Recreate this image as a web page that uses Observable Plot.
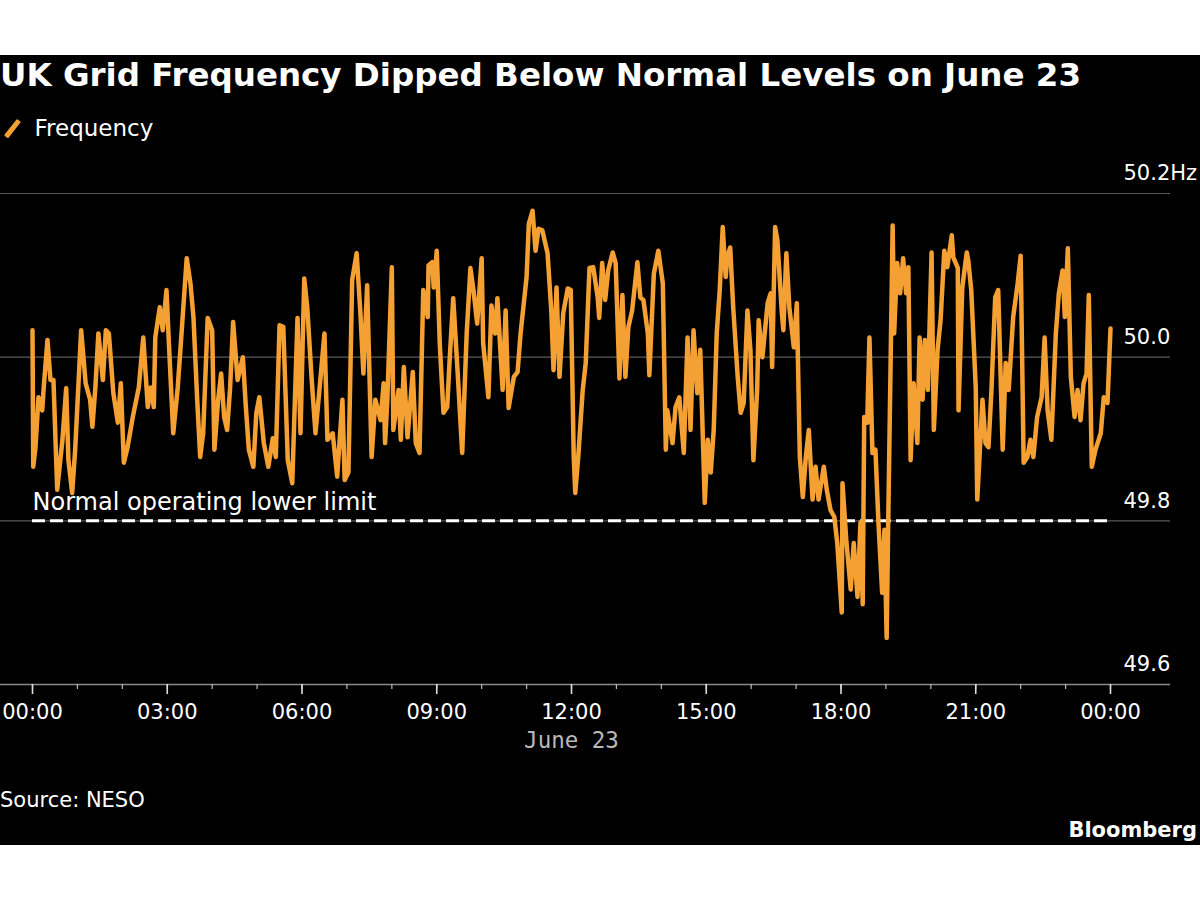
<!DOCTYPE html>
<html>
<head>
<meta charset="utf-8">
<script src="https://cdn.jsdelivr.net/npm/d3@7"></script>
<script src="https://cdn.jsdelivr.net/npm/@observablehq/plot@0.6"></script>
<style>
  html, body { margin: 0; padding: 0; background: #ffffff; width: 1200px; height: 900px; overflow: hidden; }
  #panel { position: absolute; left: 0; top: 55px; width: 1200px; height: 790px; background: #000; }
  .abs { position: absolute; white-space: nowrap; color: #fff; font-family: "DejaVu Sans", sans-serif; }
  #title { left: 0; top: 0px; font-size: 32.5px; font-weight: bold; line-height: 40px; }
  #legend { left: 2px; top: 58px; font-size: 23px; line-height: 30px; display: flex; align-items: center; }
  #legend .sw { display: inline-block; width: 4.5px; height: 21px; background: #f5a033; transform: rotate(38deg); margin: 0 20px 0 8px; border-radius: 1px; }
  #chart { position: absolute; left: 0; top: 95px; }
  #source { left: 0; top: 731px; font-size: 21px; line-height: 28px; }
  #brand { right: 3px; top: 761px; font-size: 21px; font-weight: bold; line-height: 28px; }
</style>
</head>
<body>
<div id="panel">
  <div id="title" class="abs">UK Grid Frequency Dipped Below Normal Levels on June 23</div>
  <div id="legend" class="abs"><span class="sw"></span><span>Frequency</span></div>
  <div id="chart"></div>
  <div id="source" class="abs">Source: NESO</div>
  <div id="brand" class="abs">Bloomberg</div>
</div>
<script>
// Minutes after midnight, June 23
const minutes = [
  0, 1, 4, 8, 13, 15, 20, 24, 28, 33,
  40, 45, 48, 53, 57, 65, 71, 77, 80, 84,
  88, 94, 98, 102, 108, 114, 118, 122, 127, 134,
  142, 148, 154, 158, 162, 164, 170, 174, 179, 182,
  188, 194, 200, 206, 211, 215, 220, 224, 228, 234,
  240, 243, 248, 252, 256, 260, 264, 268, 274, 281,
  285, 289, 295, 299, 303, 309, 315, 321, 325, 330,
  335, 341, 347, 354, 358, 363, 367, 373, 378, 383,
  390, 394, 401, 407, 414, 417, 422, 427, 433, 438,
  442, 447, 453, 458, 465, 469, 471, 474, 480, 482,
  489, 492, 496, 501, 508, 512, 517, 522, 528, 529,
  534, 536, 540, 544, 549, 554, 557, 562, 568, 574,
  580, 585, 589, 594, 600, 602, 609, 613, 618, 621,
  628, 632, 636, 643, 648, 652, 660, 663, 668, 672,
  676, 681, 688, 693, 696, 700, 704, 709, 715, 719,
  723, 725, 729, 735, 739, 744, 749, 755, 757, 761,
  765, 769, 775, 779, 784, 788, 792, 796, 801, 808,
  812, 816, 822, 824, 830, 836, 842, 846, 848, 855,
  859, 864, 870, 875, 879, 883, 888, 892, 898, 902,
  906, 910, 914, 918, 922, 926, 928, 932, 936, 942,
  946, 950, 955, 959, 963, 968, 970, 975, 982, 986,
  988, 992, 995, 1001, 1003, 1007, 1011, 1017, 1021, 1025,
  1029, 1033, 1037, 1042, 1046, 1050, 1057, 1061, 1066, 1071,
  1075, 1081, 1082, 1087, 1093, 1097, 1102, 1106, 1109, 1111,
  1115, 1118, 1122, 1126, 1130, 1135, 1138, 1141, 1143, 1149,
  1151, 1155, 1159, 1163, 1167, 1170, 1173, 1177, 1182, 1185,
  1189, 1192, 1196, 1201, 1204, 1209, 1213, 1218, 1222, 1228,
  1230, 1236, 1237, 1242, 1248, 1250, 1254, 1260, 1262, 1266,
  1269, 1273, 1277, 1281, 1286, 1290, 1296, 1300, 1304, 1310,
  1316, 1320, 1324, 1329, 1333, 1337, 1342, 1348, 1352, 1356,
  1361, 1367, 1371, 1376, 1379, 1383, 1387, 1392, 1396, 1400,
  1404, 1408, 1411, 1415, 1420, 1427, 1431, 1436, 1440
];
// Grid frequency, Hz
const frequency = [
  50.033, 49.866, 49.890, 49.951, 49.935, 49.963, 50.021, 49.972, 49.972, 49.838,
  49.899, 49.962, 49.874, 49.834, 49.887, 50.033, 49.968, 49.948, 49.915, 49.963,
  50.029, 49.972, 50.033, 50.029, 49.956, 49.920, 49.968, 49.871, 49.890, 49.927,
  49.963, 50.024, 49.939, 49.963, 49.939, 50.024, 50.061, 50.033, 50.082, 50.021,
  49.907, 49.963, 50.041, 50.121, 50.090, 50.049, 49.948, 49.878, 49.907, 50.048,
  50.033, 49.887, 49.948, 49.980, 49.927, 49.911, 49.963, 50.043, 49.972, 50.000,
  49.939, 49.887, 49.866, 49.932, 49.951, 49.895, 49.866, 49.901, 49.878, 50.039,
  50.037, 49.874, 49.846, 50.048, 49.907, 50.096, 50.061, 49.972, 49.907, 49.957,
  50.029, 49.899, 49.907, 49.854, 49.948, 49.850, 49.859, 50.094, 50.127, 50.054,
  49.980, 50.088, 49.878, 49.948, 49.923, 49.968, 49.895, 49.948, 50.110, 49.911,
  49.960, 49.899, 49.988, 49.902, 49.982, 49.895, 49.883, 50.082, 50.049, 50.112,
  50.116, 50.085, 50.130, 50.017, 49.932, 49.939, 49.993, 50.072, 49.980, 49.883,
  50.029, 50.109, 50.082, 50.041, 50.121, 50.017, 49.951, 50.063, 50.029, 50.072,
  49.960, 50.057, 49.938, 49.976, 49.982, 50.029, 50.098, 50.163, 50.179, 50.130,
  50.157, 50.155, 50.127, 50.057, 49.984, 50.085, 49.976, 50.054, 50.084, 50.082,
  49.878, 49.834, 49.878, 49.960, 49.993, 50.109, 50.110, 50.073, 50.048, 50.115,
  50.070, 50.106, 50.128, 50.115, 49.974, 50.076, 49.976, 50.037, 50.057, 50.116,
  50.073, 50.070, 50.029, 49.978, 50.102, 50.130, 50.090, 49.887, 49.935, 49.895,
  49.939, 49.951, 49.883, 50.024, 49.911, 50.033, 49.956, 50.009, 49.822, 49.899,
  49.859, 49.911, 50.029, 50.082, 50.159, 50.098, 50.122, 50.134, 50.061, 49.976,
  49.932, 49.944, 50.057, 50.009, 49.874, 49.960, 50.045, 50.000, 50.066, 50.078,
  49.988, 50.159, 50.143, 50.054, 50.033, 50.127, 50.061, 50.012, 50.066, 49.878,
  49.829, 49.878, 49.911, 49.826, 49.866, 49.826, 49.866, 49.838, 49.813, 49.805,
  49.773, 49.688, 49.846, 49.777, 49.716, 49.773, 49.707, 49.798, 49.698, 49.927,
  49.920, 50.024, 49.883, 49.887, 49.798, 49.712, 49.789, 49.657, 49.793, 50.161,
  50.029, 50.115, 50.078, 50.121, 50.078, 50.110, 49.874, 49.968, 49.895, 50.024,
  49.948, 50.021, 49.960, 50.128, 49.911, 50.009, 50.045, 50.130, 50.110, 50.149,
  50.122, 50.109, 49.935, 50.085, 50.128, 50.118, 50.082, 49.963, 49.826, 49.895,
  49.948, 49.895, 49.890, 49.960, 50.073, 50.082, 49.887, 49.993, 49.960, 50.049,
  50.090, 50.124, 49.871, 49.878, 49.899, 49.878, 49.927, 49.951, 50.024, 49.935,
  49.899, 50.029, 50.078, 50.106, 50.049, 50.133, 49.976, 49.927, 49.960, 49.923,
  49.968, 49.980, 50.076, 49.866, 49.887, 49.907, 49.951, 49.944, 50.035
];
const yTickValues = [50.2, 50.0, 49.8, 49.6];
const yTickLabels = ["50.2Hz", "50.0", "49.8", "49.6"];
const gridValues = [50.2, 50.0, 49.8];
const lowerLimit = 49.8;
const limitLabel = "Normal operating lower limit";
const dateLabel = "June 23";

const day = (m) => new Date(Date.UTC(2025, 5, 23, 0, m));
const series = minutes.map((m, i) => ({t: day(m), v: frequency[i]}));
const start = day(0), end = day(1440), noon = day(720);
const yTicks = yTickValues.map((v, i) => ({v, label: yTickLabels[i]}));

const chart = Plot.plot({
  width: 1200,
  height: 620,
  marginLeft: 32,
  marginRight: 90,
  marginTop: 43,
  marginBottom: 86,
  style: {background: "transparent", color: "#fff", fontFamily: "DejaVu Sans, sans-serif", fontSize: "21px"},
  x: {type: "utc", domain: [start, end], label: null},
  y: {domain: [49.6, 50.2], axis: null},
  marks: [
    Plot.ruleY(gridValues, {stroke: "#5a5a5a", strokeWidth: 1.2, insetLeft: -32, insetRight: -60}),
    Plot.ruleY([49.6], {stroke: "#8a8a8a", strokeWidth: 1.5, insetLeft: -32, insetRight: -60}),
    Plot.axisX({ticks: d3.utcHour.every(1), tickSize: 5, tickFormat: () => "", stroke: "#bbb", strokeWidth: 1.2, label: null}),
    Plot.axisX({ticks: d3.utcHour.every(3), tickSize: 10, tickPadding: 10, tickFormat: d3.utcFormat("%H:%M"),
                stroke: "#ddd", strokeWidth: 1.6, fill: "#fff", fontSize: 21, label: null}),
    Plot.text([dateLabel], {x: () => noon, frameAnchor: "bottom", dy: 63, text: d => d,
                fill: "#b8b8b8", fontSize: 22.5, fontFamily: "DejaVu Sans Mono, monospace"}),
    Plot.ruleY([lowerLimit], {x1: () => start, x2: () => end, stroke: "#fff", strokeWidth: 3, strokeDasharray: "13,5"}),
    Plot.text([limitLabel], {x: () => start, y: () => lowerLimit, text: d => d, textAnchor: "start", dy: -19,
                fill: "#fff", fontSize: 24}),
    Plot.line(series, {x: "t", y: "v", stroke: "#f5a033", strokeWidth: 4.5, strokeLinejoin: "round"}),
    Plot.text(yTicks, {y: "v", text: "label", frameAnchor: "right", dx: 13, dy: -20, textAnchor: "start",
                fill: "#fff", fontSize: 21})
  ]
});
document.getElementById("chart").appendChild(chart);
</script>
</body>
</html>
